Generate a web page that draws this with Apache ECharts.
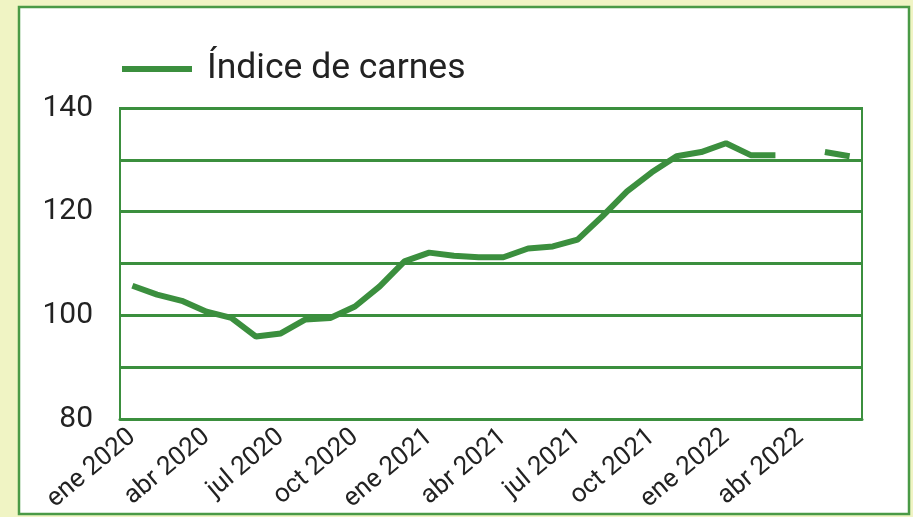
<!DOCTYPE html>
<html>
<head>
<meta charset="utf-8">
<script src="https://cdn.jsdelivr.net/npm/echarts@6/dist/echarts.min.js"></script>
<style>
  html, body { margin: 0; padding: 0; background: #f0f4c4; }
  #chart { width: 913px; height: 517px; }
</style>
</head>
<body>
<div id="chart"></div>
<script>
// Monthly meat price index, Jan 2020 – Jun 2022 (Apr 2022 missing)
const months = [
  'ene 2020','feb 2020','mar 2020','abr 2020','may 2020','jun 2020',
  'jul 2020','ago 2020','sep 2020','oct 2020','nov 2020','dic 2020',
  'ene 2021','feb 2021','mar 2021','abr 2021','may 2021','jun 2021',
  'jul 2021','ago 2021','sep 2021','oct 2021','nov 2021','dic 2021',
  'ene 2022','feb 2022','mar 2022','abr 2022','may 2022','jun 2022'
];
const indiceCarnes = [
  105.7, 104.0, 102.8, 100.7, 99.5, 95.9,
  96.5, 99.2, 99.5, 101.7, 105.6, 110.4,
  112.1, 111.5, 111.2, 111.2, 112.9, 113.3,
  114.6, 119.1, 123.9, 127.6, 130.7, 131.5,
  133.2, 130.9, 130.9, null, 131.5, 130.7
];
const seriesName = 'Índice de carnes';
const yMin = 80, yMax = 140, yStep = 10;

const green = '#3b8f3e';
const chart = echarts.init(document.getElementById('chart'), null, { renderer: 'canvas' });

chart.setOption({
  backgroundColor: '#f0f4c4',
  animation: false,
  textStyle: { fontFamily: 'Roboto' },
  graphic: [{
    type: 'rect',
    silent: true,
    z: -100,
    shape: { x: 19, y: 7, width: 890, height: 507 },
    style: { fill: '#ffffff', stroke: '#4a9a46', lineWidth: 2.5 }
  }],
  legend: {
    left: 122,
    top: 51,
    padding: 0,
    icon: 'rect',
    itemWidth: 70,
    itemHeight: 6,
    textStyle: { fontSize: 35.5, color: '#222', fontFamily: 'Roboto', padding: [0, 0, 0, 10] },
    data: [seriesName]
  },
  grid: {
    left: 120, right: 51, top: 108, bottom: 98,
    outerBoundsMode: 'none',
    containLabel: false,
    show: true, borderColor: green, borderWidth: 2, backgroundColor: 'transparent'
  },
  xAxis: {
    type: 'category',
    data: months,
    boundaryGap: true,
    axisLine: { show: true, lineStyle: { color: green, width: 3 } },
    axisTick: { show: false },
    axisLabel: {
      interval: 2,
      rotate: 40,
      margin: 15,
      fontSize: 26,
      color: '#222',
      fontFamily: 'Roboto'
    }
  },
  yAxis: {
    type: 'value',
    min: yMin, max: yMax, interval: yStep,
    axisLine: { show: false },
    axisTick: { show: false },
    splitLine: { show: true, lineStyle: { color: green, width: 3 } },
    axisLabel: {
      margin: 27,
      fontSize: 30,
      color: '#222',
      fontFamily: 'Roboto',
      formatter: v => (v % 20 === 0 ? String(v) : '')
    }
  },
  series: [{
    name: seriesName,
    type: 'line',
    data: indiceCarnes,
    connectNulls: false,
    showSymbol: false,
    symbol: 'none',
    lineStyle: { color: green, width: 6 },
    itemStyle: { color: green }
  }]
});
</script>
</body>
</html>
